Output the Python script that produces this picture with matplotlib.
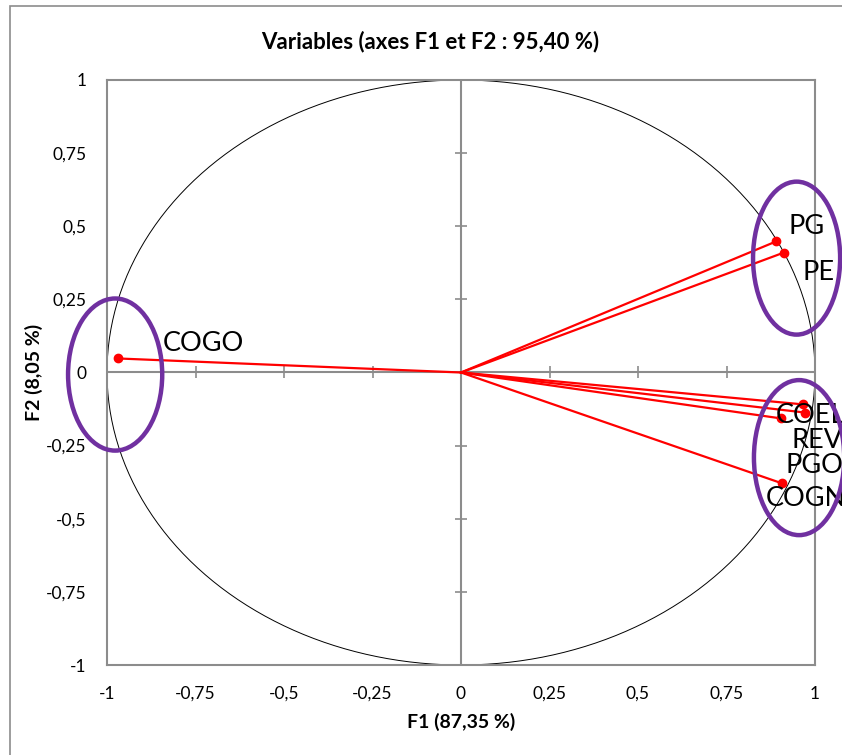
import matplotlib.pyplot as plt
import numpy as np
from matplotlib.patches import Ellipse, Rectangle

plt.rcParams['font.family'] = ['Lato', 'DejaVu Sans']

# coordonnees des variables sur F1 / F2
noms = ['COGO', 'PG', 'PE', 'COEL', 'REV', 'PGO', 'COGN']
f1 = [-0.969, 0.890, 0.912, 0.966, 0.972, 0.904, 0.907]
f2 = [0.048, 0.448, 0.410, -0.109, -0.137, -0.157, -0.379]

# position des etiquettes (deplacees a la main)
lab_x = [-0.842, 0.924, 0.966, 0.890, 0.935, 0.918, 0.862]
lab_y = [0.099, 0.499, 0.342, -0.147, -0.232, -0.318, -0.431]

# groupes entoures : centre x, centre y, largeur, hauteur
groupes = [
    (-0.977, -0.007, 0.266, 0.52),
    (0.948, 0.391, 0.246, 0.523),
    (0.955, -0.291, 0.255, 0.53),
]

graduations = [-1, -0.75, -0.5, -0.25, 0, 0.25, 0.5, 0.75, 1]
titre = 'Variables (axes F1 et F2 : 95,40 %)'
xlabel = 'F1 (87,35 %)'
ylabel = 'F2 (8,05 %)'


def fr(v):
    s = ('%g' % v).replace('.', ',')
    return s


fig = plt.figure(figsize=(8.42, 7.55), dpi=100)
# cadre exterieur du graphique
fig.patches.append(Rectangle((10 / 842, -0.1), 1.2, 0.992 + 0.1, transform=fig.transFigure,
                             fill=False, edgecolor='#8c8c8c', linewidth=1.2))

ax = fig.add_axes([107 / 842, 1 - 665 / 755, 708 / 842, 585 / 755])
ax.set_xlim(-1, 1)
ax.set_ylim(-1, 1)

for s in ax.spines.values():
    s.set_color('#8c8c8c')
    s.set_linewidth(1.5)

# axes au centre avec graduations
ax.axhline(0, color='#8c8c8c', lw=1.5, zorder=1)
ax.axvline(0, color='#8c8c8c', lw=1.5, zorder=1)
g = np.array(graduations)
ax.plot(g, np.zeros_like(g), linestyle='none', marker='|', ms=9, mew=1.2, color='#8c8c8c', zorder=1)
ax.plot(np.zeros_like(g), g, linestyle='none', marker='_', ms=9, mew=1.2, color='#8c8c8c', zorder=1)

# cercle des correlations
t = np.linspace(0, 2 * np.pi, 400)
ax.plot(np.cos(t), np.sin(t), color='black', lw=0.7, zorder=2)

# vecteurs des variables
for i in range(len(noms)):
    ax.plot([0, f1[i]], [0, f2[i]], color='red', lw=1.6, zorder=3)
    ax.plot(f1[i], f2[i], 'o', color='red', ms=6, zorder=4)
    ax.text(lab_x[i], lab_y[i], noms[i], fontsize=19.5, ha='left', va='center', zorder=5, clip_on=False)

for cx, cy, w, h in groupes:
    ax.add_patch(Ellipse((cx, cy), w, h, fill=False, edgecolor='#7030A0', lw=3.2, zorder=6, clip_on=False))

ax.set_xticks(graduations)
ax.set_yticks(graduations)
ax.set_xticklabels([fr(v) for v in graduations], fontsize=12.5)
ax.set_yticklabels([fr(v) for v in graduations], fontsize=12.5)
ax.tick_params(length=0, pad=15)

ax.set_xlabel(xlabel, fontsize=14, fontweight='bold')
ax.set_ylabel(ylabel, fontsize=14, fontweight='bold')
ax.xaxis.set_label_coords(0.5, -0.082)
ax.yaxis.set_label_coords(-0.090, 0.5)
fig.text(430 / 842, 1 - 42 / 755, titre, fontsize=16, fontweight='bold', ha='center', va='center')

fig.savefig('out.png', dpi=100)
